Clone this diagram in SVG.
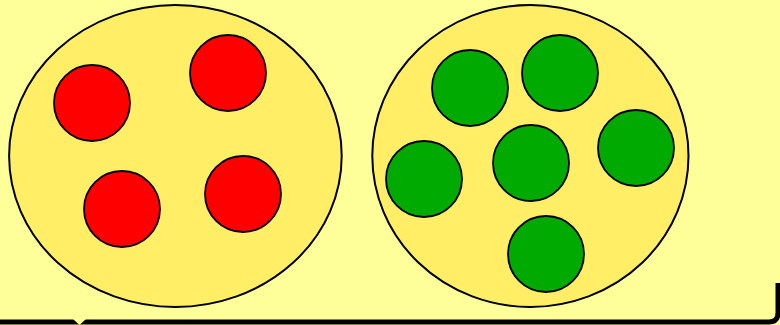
<svg xmlns="http://www.w3.org/2000/svg" width="780" height="325" viewBox="0 0 780 325">
<style>
.set{fill:#FFEE66;stroke:#000;stroke-width:2}
.red{fill:#FF0000;stroke:#000;stroke-width:1.8}
.green{fill:#00AA00;stroke:#000;stroke-width:1.8}
</style>
<rect x="0" y="0" width="780" height="325" fill="#FFFF99"/>
<path d="M778,283 L778,313 Q778,322 769,322 L-5,322" fill="none" stroke="#000" stroke-width="5"/>
<polygon points="73,319 86,319 79.5,325" fill="#FFFF99"/>
<g id="setA">
<ellipse class="set" cx="175.4" cy="156" rx="166.3" ry="151"/>
<circle class="red" cx="92" cy="103" r="38"/>
<circle class="red" cx="228" cy="73" r="38"/>
<circle class="red" cx="122" cy="209" r="38"/>
<circle class="red" cx="243" cy="194" r="38"/>
</g>
<g id="setB">
<ellipse class="set" cx="530.4" cy="156" rx="158.1" ry="151"/>
<circle class="green" cx="470" cy="88" r="38"/>
<circle class="green" cx="560" cy="73" r="38"/>
<circle class="green" cx="531" cy="163" r="38"/>
<circle class="green" cx="636" cy="148" r="38"/>
<circle class="green" cx="424" cy="179" r="38"/>
<circle class="green" cx="546" cy="254" r="38"/>
</g>
<g id="connectors"/>
</svg>
